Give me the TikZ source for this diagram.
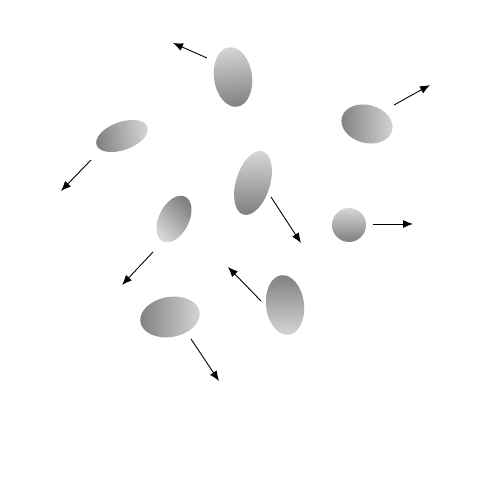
\documentclass[tikz,border=0pt]{standalone}
\usetikzlibrary{arrows.meta}
\definecolor{gdark}{gray}{0.50}
\definecolor{glight}{gray}{0.84}
\pgfdeclarehorizontalshading{blobshade}{100bp}{color(0bp)=(gdark); color(25bp)=(gdark); color(75bp)=(glight); color(100bp)=(glight)}
\tikzset{
  blob/.style={shading=blobshade, shading angle=#1},
  motion/.style={draw=black, line width=0.9pt, -{Latex[length=10pt,width=8pt]}}
}
\begin{document}
\begin{tikzpicture}[x=1pt,y=1pt]
\useasboundingbox (0,0) rectangle (504,503);
\fill[white] (0,0) rectangle (504,503);
% centres
\coordinate (c1) at (233,426);
\coordinate (c2) at (122,367);
\coordinate (c3) at (367,379);
\coordinate (c4) at (253,320);
\coordinate (c5) at (174,284);
\coordinate (c6) at (349,278);
\coordinate (c7) at (170,186);
\coordinate (c8) at (285,198);
% particles
\shade[blob=95] (c1) ellipse [x radius=19, y radius=30, rotate=8];
\shade[blob=10] (c2) ellipse [x radius=27, y radius=14, rotate=20];
\shade[blob=0] (c3) ellipse [x radius=26, y radius=19, rotate=-15];
\shade[blob=90] (c4) ellipse [x radius=17, y radius=33, rotate=-17];
\shade[blob=225] (c5) ellipse [x radius=15, y radius=25, rotate=-27];
\shade[blob=90] (c6) circle [radius=17];
\shade[blob=0] (c7) ellipse [x radius=30, y radius=20, rotate=10];
\shade[blob=270] (c8) ellipse [x radius=19, y radius=30, rotate=7];
% arrow end points
\coordinate (s1) at (207,445); \coordinate (e1) at (173,460);
\coordinate (s2) at (91,343);  \coordinate (e2) at (61,312);
\coordinate (s3) at (394,398); \coordinate (e3) at (430,418);
\coordinate (s4) at (271,306); \coordinate (e4) at (301,260);
\coordinate (s5) at (153,251); \coordinate (e5) at (122,218);
\coordinate (s6) at (373,279); \coordinate (e6) at (413,279);
\coordinate (s7) at (191,164); \coordinate (e7) at (219,122);
\coordinate (s8) at (261,202); \coordinate (e8) at (228,236);
\foreach \i in {1,...,8} { \draw[motion] (s\i) -- (e\i); }
\end{tikzpicture}
\end{document}
